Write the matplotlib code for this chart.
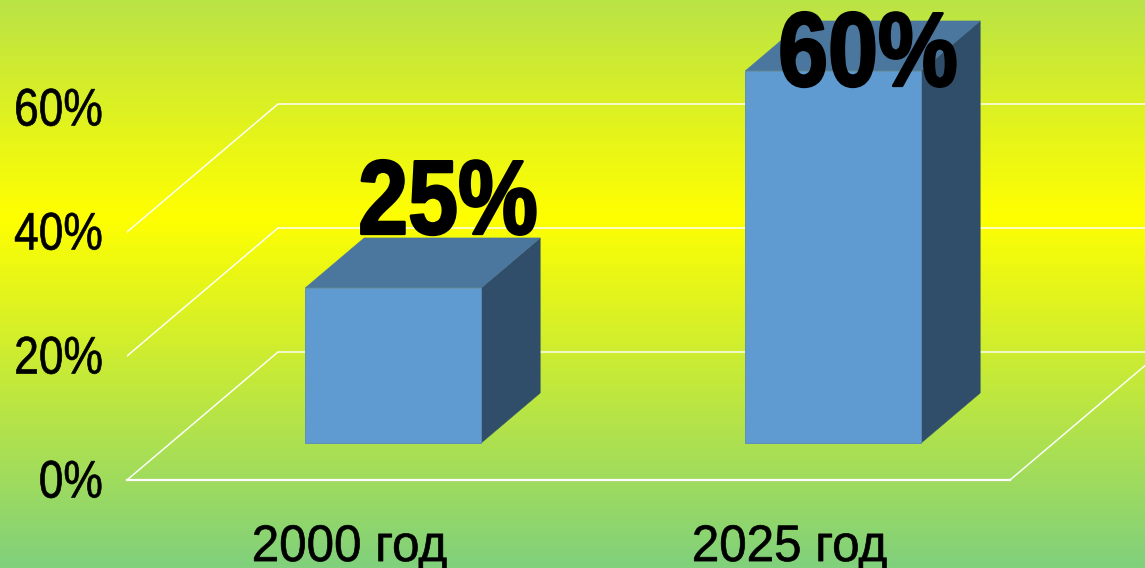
import matplotlib
matplotlib.use("Agg")
import matplotlib.pyplot as plt
from matplotlib.colors import LinearSegmentedColormap
from matplotlib.patches import Polygon
from matplotlib.patheffects import AbstractPathEffect
from matplotlib.transforms import Affine2D
import numpy as np

# Chart data
categories = ["2000 год", "2025 год"]
shares = [25, 60]
value_labels = ["25%", "60%"]
y_ticks = [0, 20, 40, 60]
y_tick_labels = ["0%", "20%", "40%", "60%"]

W, H = 1145, 568
PLOT_LEFT, PLOT_BOTTOM = 127, 480  # pixel position of the front-plane origin
PX_PER_CATEGORY = 440
PX_PER_PERCENT = 6.2
FIRST_CATEGORY_PX = 349.5

# Oblique projection: one unit of depth moves a point by this much in data units
DEPTH_X = 151 / PX_PER_CATEGORY
DEPTH_Y = 128 / PX_PER_PERCENT
BAR_FRONT, BAR_BACK = 0.29, 0.68
BAR_HALF_WIDTH = 0.2

FRONT_COLOR = "#5f9bd0"
TOP_COLOR = "#4b769e"
SIDE_COLOR = "#304e6a"
FONT = "Liberation Sans"


class CondensedText(AbstractPathEffect):
    """Narrows glyphs horizontally around one side of the text and adds a thin outline."""

    def __init__(self, factor=0.815, anchor="center", stroke=0.5, rise=0):
        super().__init__()
        self.factor = factor
        self.anchor = anchor
        self.stroke = stroke
        self.rise = rise

    def draw_path(self, renderer, gc, tpath, affine, rgbFace=None):
        box = tpath.get_extents()
        pivot = {"left": box.x0, "center": (box.x0 + box.x1) / 2, "right": box.x1}[self.anchor]
        narrowed = (Affine2D().translate(-pivot, 0).scale(self.factor, 1).translate(pivot, 0)
                    + affine + Affine2D().translate(0, self.rise))
        gc1 = renderer.new_gc()
        gc1.copy_properties(gc)
        gc1.set_linewidth(self.stroke)
        gc1.set_foreground("black")
        renderer.draw_path(gc1, tpath, narrowed, rgbFace)
        gc1.restore()


def project(x, value, depth=0.0):
    return x + depth * DEPTH_X, value + depth * DEPTH_Y


fig = plt.figure(figsize=(W / 100, H / 100), dpi=100)

# Vertical background gradient
bg = fig.add_axes([0, 0, 1, 1], zorder=0)
cmap = LinearSegmentedColormap.from_list(
    "backdrop",
    [(0.0, "#bae346"), (0.38, "#ffff00"), (1.0, "#80d07c")],
)
bg.imshow(np.linspace(0, 1, 568)[:, None], cmap=cmap, aspect="auto", vmin=0, vmax=1)
bg.set_axis_off()

ax = fig.add_axes(
    [PLOT_LEFT / W, (H - PLOT_BOTTOM) / H, 1 - PLOT_LEFT / W, PLOT_BOTTOM / H],
    zorder=1,
)
ax.patch.set_visible(False)
ax.set_xlim(
    (PLOT_LEFT - FIRST_CATEGORY_PX) / PX_PER_CATEGORY,
    (W - FIRST_CATEGORY_PX) / PX_PER_CATEGORY,
)
ax.set_ylim(0, PLOT_BOTTOM / PX_PER_PERCENT)
x_min = ax.get_xlim()[0]
x_end = x_min + 883 / PX_PER_CATEGORY  # front-right corner of the floor

# Gridlines on the left wall and back wall
grid_style = dict(color="white", lw=1.05, solid_joinstyle="miter", zorder=1)
for tick in y_ticks[:3]:
    p0 = project(x_min, tick, 0)
    p1 = project(x_min, tick, 1)
    p2 = project(x_end, tick, 1)
    ax.plot([p0[0], p1[0], p2[0]], [p0[1], p1[1], p2[1]], **grid_style)

# Floor edges at the front and on the right
p0 = project(x_min, 0, 0)
p1 = project(x_end, 0, 0)
p2 = project(x_end, 0, 1)
ax.plot([p0[0], p1[0]], [p0[1], p1[1]], clip_on=False, **{**grid_style, "lw": 1.6})
ax.plot([p1[0], p2[0]], [p1[1], p2[1]], clip_on=False, **grid_style)

# Extruded columns
for i, value in enumerate(shares):
    left, right = i - BAR_HALF_WIDTH, i + BAR_HALF_WIDTH
    front = [project(left, 0, BAR_FRONT), project(right, 0, BAR_FRONT),
             project(right, value, BAR_FRONT), project(left, value, BAR_FRONT)]
    top = [project(left, value, BAR_FRONT), project(right, value, BAR_FRONT),
           project(right, value, BAR_BACK), project(left, value, BAR_BACK)]
    side = [project(right, 0, BAR_FRONT), project(right, 0, BAR_BACK),
            project(right, value, BAR_BACK), project(right, value, BAR_FRONT)]
    ax.add_patch(Polygon(side, fc=SIDE_COLOR, ec=SIDE_COLOR, lw=0.4, zorder=2))
    ax.add_patch(Polygon(top, fc=TOP_COLOR, ec=TOP_COLOR, lw=0.4, zorder=2))
    ax.add_patch(Polygon(front, fc=FRONT_COLOR, ec="#5a8ab8", lw=0.6, zorder=3))

# Value labels, placed by hand relative to each column's top edge
label_offsets = [(54.5, 54), (34.5, -15)]
for i, value in enumerate(shares):
    anchor = project(i, value, BAR_FRONT)
    ax.annotate(
        value_labels[i], xy=anchor,
        xytext=(label_offsets[i][0] * 0.72, label_offsets[i][1] * 0.72),
        textcoords="offset points", ha="center", va="baseline",
        family=FONT, fontweight="bold",
        fontsize=76, color="black", zorder=5, annotation_clip=False,
        path_effects=[CondensedText(factor=0.85, anchor="center", stroke=1.8)],
    )

# Axis labels
ax.set_xticks(range(len(categories)), categories, family=FONT, fontsize=37, color="black")
ax.set_yticks(y_ticks, y_tick_labels, family=FONT, fontsize=38, color="black")
ax.tick_params(axis="x", length=0, pad=31)
ax.tick_params(axis="y", length=0, pad=17.3)
for label in ax.get_xticklabels():
    label.set_path_effects([CondensedText(factor=0.96, anchor="center")])
for label in ax.get_yticklabels():
    label.set_path_effects([CondensedText(factor=0.84, anchor="right", rise=2)])
for spine in ax.spines.values():
    spine.set_visible(False)

fig.savefig("out.png", dpi=100)
